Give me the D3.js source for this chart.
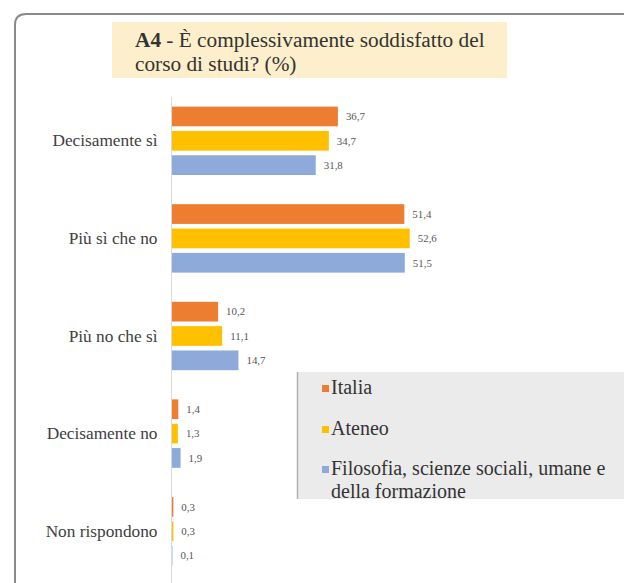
<!DOCTYPE html>
<html><head><meta charset="utf-8">
<script src="https://cdn.jsdelivr.net/npm/d3@7"></script>
<style>
html,body{margin:0;padding:0;background:#fff;}
svg{display:block;}
svg text{font-family:"Liberation Serif";}
</style>
</head><body>
<svg id="c" width="624" height="583"></svg>
<script>
const categories = ["Decisamente sì","Più sì che no","Più no che sì","Decisamente no","Non rispondono"];
const seriesNames = ["Italia","Ateneo","Filosofia, scienze sociali, umane e della formazione"];
const italia = [36.7, 51.4, 10.2, 1.4, 0.3];
const ateneo = [34.7, 52.6, 11.1, 1.3, 0.3];
const filosofia = [31.8, 51.5, 14.7, 1.9, 0.1];
const colors = ["#ED7D31","#FFC000","#8EAADB"];
const titleBold = "A4";
const titleLines = [" - È complessivamente soddisfatto del", "corso di studi? (%)"];

const seriesValues = [italia, ateneo, filosofia];
const fmt = v => d3.format(".1f")(v).replace(".", ",");
const FONT = "Liberation Serif";

const svg = d3.select("#c");
function txt(sel) { return sel.attr("font-family", FONT).style("font-family", '"Liberation Serif"'); }

// size a font so that a sample string fits the reference width
function fitSize(sample, target) {
  const t = txt(svg.append("text")).attr("font-size", 20).text(sample);
  const w = t.node().getComputedTextLength();
  t.remove();
  return Math.round(20 * target / w * 10) / 10;
}
const fsTitle = fitSize("A4 - È complessivamente soddisfatto del", 350);
const fsCat = fitSize("Decisamente sì", 105);
const fsLeg = fitSize("Filosofia, scienze sociali, umane e", 275);
const fsVal = fitSize("36,7", 19);

// outer frame
svg.append("path")
  .attr("d", "M15,640 L15,25 Q15,14 26,14 L640,14")
  .attr("fill","none").attr("stroke","#8a8a8a").attr("stroke-width",2);

// title
svg.append("rect").attr("x",112).attr("y",22).attr("width",395).attr("height",56).attr("fill","#FDEFCB");
const t1 = txt(svg.append("text")).attr("x",135).attr("y",47).attr("font-size",fsTitle).attr("fill","#333");
t1.append("tspan").attr("font-weight","bold").text(titleBold);
t1.append("tspan").text(titleLines[0]);
txt(svg.append("text")).attr("x",135).attr("y",71).attr("font-size",fsTitle).attr("fill","#333").text(titleLines[1]);

// scales
const x = d3.scaleLinear().domain([0, 60]).range([172, 172 + 271.2]);
const y0 = d3.scaleBand().domain(categories).range([92, 580]);
const y1 = d3.scaleBand().domain(d3.range(3)).range([-34.2, 34.2]).paddingInner(0.19);

// axis line
svg.append("line").attr("x1",171.5).attr("x2",171.5).attr("y1",97).attr("y2",583).attr("stroke","#d9d9d9").attr("stroke-width",1);

// category labels via axis
const yAxis = svg.append("g").attr("transform","translate(171.5,0)")
  .call(d3.axisLeft(y0).tickSize(0).tickPadding(14));
yAxis.attr("font-family", FONT).attr("font-size", fsCat);
yAxis.select(".domain").remove();
txt(yAxis.selectAll("text")).attr("font-size",fsCat).attr("fill","#404040");

// bars
const groups = svg.append("g").selectAll("g").data(categories).join("g")
  .attr("transform", d => `translate(0,${y0(d) + y0.bandwidth()/2})`);
groups.each(function(cat, ci){
  const g = d3.select(this);
  seriesValues.forEach((vals, si) => {
    const v = vals[ci];
    g.append("rect").attr("x", x(0)).attr("y", y1(si)).attr("width", x(v) - x(0)).attr("height", y1.bandwidth()).attr("fill", colors[si]);
    txt(g.append("text")).attr("x", x(v) + 8).attr("y", y1(si) + y1.bandwidth()/2).attr("dy","0.35em")
      .attr("font-size",fsVal).attr("fill","#555").text(fmt(v));
  });
});

// legend
const lg = svg.append("g");
lg.append("rect").attr("x",297).attr("y",372).attr("width",340).attr("height",127).attr("fill","#EBEBEB");
lg.append("line").attr("x1",297.5).attr("x2",297.5).attr("y1",372).attr("y2",499).attr("stroke","#b0b0b0").attr("stroke-width",1.5);
const legendY = [389, 430, 470];
seriesNames.forEach((name, i) => {
  lg.append("rect").attr("x",322).attr("y",legendY[i]-4).attr("width",7).attr("height",7).attr("fill",colors[i]);
  const tx = txt(lg.append("text")).attr("x",331).attr("y",legendY[i]+5).attr("font-size",fsLeg).attr("fill","#333");
  if (i === 2) {
    tx.text("Filosofia, scienze sociali, umane e");
    txt(lg.append("text")).attr("x",331).attr("y",legendY[i]+28).attr("font-size",fsLeg).attr("fill","#333").text("della formazione");
  } else tx.text(name);
});
</script>
</body></html>
